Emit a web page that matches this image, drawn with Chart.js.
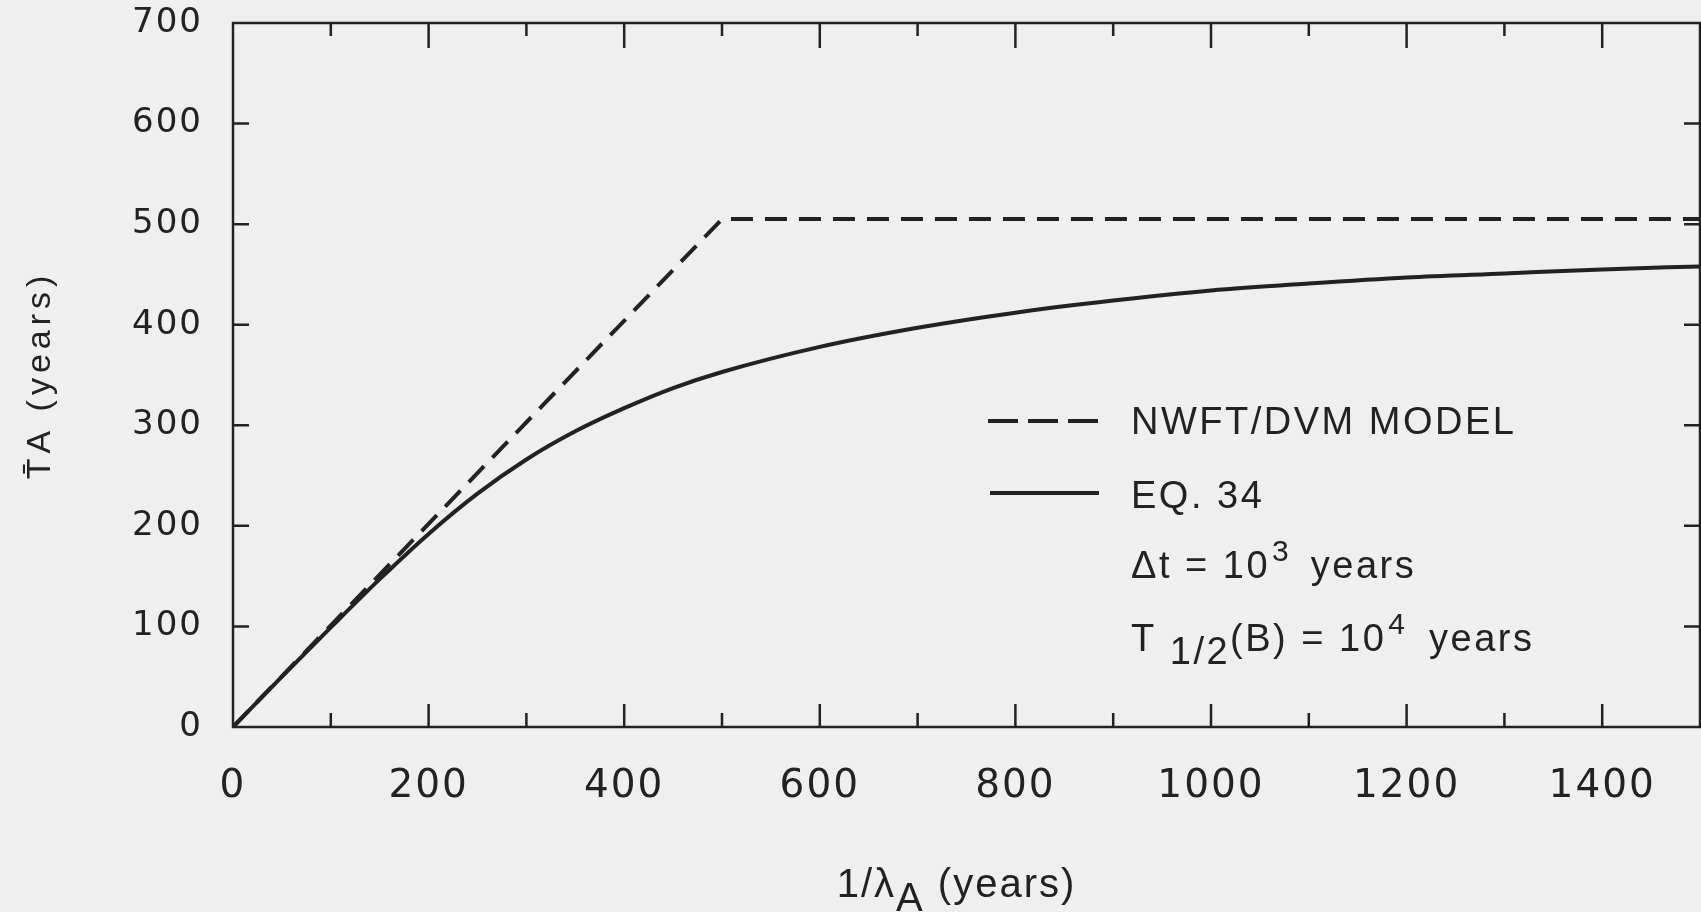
<!DOCTYPE html>
<html>
<head>
<meta charset="utf-8">
<script src="https://cdn.jsdelivr.net/npm/chart.js@4.4.0/dist/chart.umd.min.js"></script>
<style>
  html, body { margin: 0; padding: 0; background: #efefef; }
  canvas { display: block; }
</style>
</head>
<body>
<canvas id="myChart" width="1701" height="912"></canvas>
<script>
// axis ticks
const xTickVals = [0, 200, 400, 600, 800, 1000, 1200, 1400];
const yTickVals = [0, 100, 200, 300, 400, 500, 600, 700];

// NWFT/DVM model (dashed)
const dvmX = [0, 500, 1500];
const dvmY = [0, 505, 505];

// EQ. 34 (solid)
const eqX = [0, 50, 100, 150, 200, 250, 300, 350, 400, 450, 500, 600, 700, 800, 900, 1000, 1100, 1200, 1300, 1400, 1500];
const eqY = [0, 50, 99, 147, 192, 232, 266, 294, 317, 337, 353, 378, 397, 412, 424, 434, 441, 447, 451, 455, 458];

const ink = "#222222";

const toPoints = (xs, ys) => xs.map((v, i) => ({ x: v, y: ys[i] }));

function put(ctx, str, x, y, font, ls) {
  ctx.font = font;
  ctx.letterSpacing = ls;
  ctx.fillText(str, x, y);
  return x + ctx.measureText(str).width;
}

const frame = {
  id: "frame",
  beforeDraw(chart) {
    chart.ctx.letterSpacing = "2px";
  },
  afterDraw(chart) {
    const ctx = chart.ctx;
    const a = chart.chartArea;
    const x = chart.scales.x;
    const y = chart.scales.y;
    ctx.save();
    ctx.strokeStyle = ink;
    ctx.fillStyle = ink;
    ctx.lineWidth = 2.5;
    ctx.setLineDash([]);
    ctx.strokeRect(a.left, a.top, a.right - a.left, a.bottom - a.top);

    // inward ticks on all four sides
    ctx.beginPath();
    for (let v = 100; v < 1500; v += 100) {
      const px = x.getPixelForValue(v);
      const major = v % 200 === 0;
      ctx.moveTo(px, a.bottom);
      ctx.lineTo(px, a.bottom - (major ? 23 : 14));
      ctx.moveTo(px, a.top);
      ctx.lineTo(px, a.top + (major ? 25 : 13));
    }
    for (let v = 100; v < 700; v += 100) {
      const py = y.getPixelForValue(v);
      ctx.moveTo(a.left, py);
      ctx.lineTo(a.left + 16, py);
      ctx.moveTo(a.right, py);
      ctx.lineTo(a.right - 16, py);
    }
    ctx.stroke();

    ctx.textBaseline = "alphabetic";
    ctx.textAlign = "left";

    // y title
    ctx.save();
    ctx.translate(41, (a.top + a.bottom) / 2);
    ctx.rotate(-Math.PI / 2);
    ctx.textAlign = "center";
    ctx.textBaseline = "middle";
    ctx.font = "34px 'Liberation Sans'";
    ctx.letterSpacing = "5px";
    ctx.fillText("T\u0304A (years)", 0, 0);
    ctx.restore();

    // x title with subscript A
    const tf = "40px 'Liberation Sans'";
    ctx.font = tf;
    ctx.letterSpacing = "2px";
    const w1 = ctx.measureText("1/\u03bb").width;
    const w2 = ctx.measureText("A").width;
    const w3 = ctx.measureText(" (years)").width;
    let tx = (a.left + a.right) / 2 - 10 - (w1 + w2 + w3) / 2;
    const tb = a.bottom + 170;
    tx = put(ctx, "1/\u03bb", tx, tb, tf, "2px");
    tx = put(ctx, "A", tx, tb + 14, tf, "2px");
    put(ctx, " (years)", tx, tb, tf, "2px");

    // legend
    const lx = a.left + 898;
    ctx.lineWidth = 4;
    ctx.setLineDash([30, 10]);
    ctx.beginPath();
    ctx.moveTo(a.left + 755, a.top + 398);
    ctx.lineTo(a.left + 866, a.top + 398);
    ctx.stroke();
    ctx.setLineDash([]);
    ctx.beginPath();
    ctx.moveTo(a.left + 757, a.top + 470);
    ctx.lineTo(a.left + 866, a.top + 470);
    ctx.stroke();

    const lf = "38px 'Liberation Sans'";
    const sf = "30px 'Liberation Sans'";
    put(ctx, "NWFT/DVM MODEL", lx, a.top + 411, lf, "2.5px");
    put(ctx, "EQ. 34", lx, a.top + 485, lf, "2.5px");

    let b = a.top + 555;
    let cx = put(ctx, "\u0394t = 10", lx, b, lf, "2.5px");
    cx = put(ctx, "3", cx + 2, b - 17, sf, "1px");
    put(ctx, " years", cx + 8, b, lf, "2.5px");

    b = a.top + 628;
    cx = put(ctx, "T ", lx, b, lf, "2.5px");
    cx = put(ctx, "1/2", cx, b + 13, lf, "2.5px");
    cx = put(ctx, "(B) = 10", cx, b, lf, "2.5px");
    cx = put(ctx, "4", cx + 2, b - 17, sf, "1px");
    put(ctx, " years", cx + 10, b, lf, "2.5px");

    ctx.restore();
  },
};

const ctx = document.getElementById("myChart");

new Chart(ctx, {
  type: "line",
  data: {
    datasets: [
      {
        label: "NWFT/DVM MODEL",
        data: toPoints(dvmX, dvmY),
        borderColor: ink,
        borderWidth: 4,
        borderDash: [22, 12],
        pointRadius: 0,
        tension: 0,
        fill: false,
      },
      {
        label: "EQ. 34",
        data: toPoints(eqX, eqY),
        borderColor: ink,
        borderWidth: 4,
        pointRadius: 0,
        cubicInterpolationMode: "monotone",
        fill: false,
      },
    ],
  },
  options: {
    responsive: false,
    animation: false,
    devicePixelRatio: 1,
    layout: { padding: { left: 0, right: 1, top: 23, bottom: 0 } },
    plugins: {
      legend: { display: false },
      tooltip: { enabled: false },
    },
    scales: {
      x: {
        type: "linear",
        min: 0,
        max: 1500,
        afterBuildTicks: (s) => { s.ticks = xTickVals.map((v) => ({ value: v })); },
        afterFit: (s) => {
          s.height = 185;
          s.paddingLeft = 0;
          s.paddingRight = 0;
        },
        grid: { display: false, drawTicks: false },
        border: { display: false },
        ticks: {
          autoSkip: false,
          maxRotation: 0,
          padding: 36,
          color: ink,
          font: { family: "DejaVu Sans", size: 39 },
          callback: (v) => String(v),
        },
      },
      y: {
        min: 0,
        max: 700,
        afterBuildTicks: (s) => { s.ticks = yTickVals.map((v) => ({ value: v })); },
        afterFit: (s) => {
          s.width = 233;
          s.paddingTop = 0;
          s.paddingBottom = 0;
        },
        grid: { display: false, drawTicks: false },
        border: { display: false },
        ticks: {
          padding: 30,
          color: ink,
          font: { family: "DejaVu Sans", size: 34 },
          callback: (v) => String(v),
        },
      },
    },
  },
  plugins: [frame],
});
</script>
</body>
</html>
